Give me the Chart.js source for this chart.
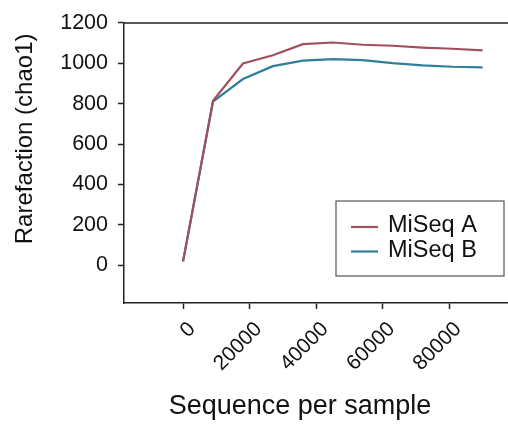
<!DOCTYPE html>
<html>
<head>
<meta charset="utf-8">
<script src="https://cdn.jsdelivr.net/npm/chart.js@4"></script>
<style>
  body { margin: 0; background: #fff; }
  #wrap { width: 508px; height: 426px; }
</style>
</head>
<body>
<div id="wrap"><canvas id="chart"></canvas></div>
<script>
// sequences per sample (x) and chao1 values
const seqs = [0, 9000, 18000, 27000, 36000, 45000, 54000, 63000, 72000, 81000, 90000];
const miseqA = [20, 815, 999, 1040, 1095, 1103, 1092, 1087, 1078, 1072, 1064];
const miseqB = [20, 810, 922, 986, 1013, 1021, 1016, 1001, 990, 983, 980];

const xTicks = [0, 20000, 40000, 60000, 80000];
const yTicks = [0, 200, 400, 600, 800, 1000, 1200];

const xTitle = 'Sequence per sample';
const yTitle = 'Rarefaction (chao1)';

const FONT = "'Liberation Sans', Arial, sans-serif";
const AXIS = '#222';

function toPoints(ys) {
  return seqs.map((x, i) => ({ x: x, y: ys[i] }));
}

// top spine, axis titles (off-centre like the original) and boxed legend
const frame = {
  id: 'frame',
  afterDraw(chart) {
    const ctx = chart.ctx;
    const a = chart.chartArea;
    ctx.save();
    ctx.strokeStyle = AXIS;
    ctx.lineWidth = 1.5;
    ctx.beginPath();
    ctx.moveTo(a.left, a.top);
    ctx.lineTo(a.right, a.top);
    ctx.stroke();

    // axis titles
    ctx.fillStyle = '#111';
    ctx.textAlign = 'center';
    ctx.textBaseline = 'middle';
    ctx.font = '27px ' + FONT;
    ctx.fillText(xTitle, a.left + 176, a.bottom + 104);
    ctx.save();
    ctx.translate(a.left - 99, a.top + 116);
    ctx.rotate(-Math.PI / 2);
    ctx.font = '24px ' + FONT;
    ctx.fillText(yTitle, 0, 0);
    ctx.restore();

    // legend box
    const bx = a.right - 172, by = a.bottom - 102, bw = 168, bh = 75;
    ctx.fillStyle = '#fff';
    ctx.fillRect(bx, by, bw, bh);
    ctx.strokeStyle = '#555';
    ctx.lineWidth = 1.2;
    ctx.strokeRect(bx, by, bw, bh);
    ctx.font = '23.5px ' + FONT;
    ctx.textAlign = 'left';
    ctx.textBaseline = 'alphabetic';
    chart.data.datasets.forEach((ds, i) => {
      const ly = by + 26 + i * 24.5;
      ctx.strokeStyle = ds.borderColor;
      ctx.lineWidth = 2.2;
      ctx.beginPath();
      ctx.moveTo(bx + 15, ly);
      ctx.lineTo(bx + 42, ly);
      ctx.stroke();
      ctx.fillStyle = '#111';
      ctx.fillText(ds.label, bx + 52, ly + 5);
    });
    ctx.restore();
  }
};

const config = {
  type: 'line',
  data: {
    datasets: [
      {
        label: 'MiSeq A',
        data: toPoints(miseqA),
        borderColor: '#a0505f',
        backgroundColor: '#a0505f',
        borderWidth: 2.2,
        pointRadius: 0,
        tension: 0
      },
      {
        label: 'MiSeq B',
        data: toPoints(miseqB),
        borderColor: '#2f7e9a',
        backgroundColor: '#2f7e9a',
        borderWidth: 2.2,
        pointRadius: 0,
        tension: 0
      }
    ]
  },
  options: {
    responsive: true,
    maintainAspectRatio: false,
    animation: false,
    layout: { padding: { top: 21, right: 0, left: 0, bottom: 4 } },
    plugins: {
      legend: { display: false },
      tooltip: { enabled: false }
    },
    scales: {
      x: {
        type: 'linear',
        min: -17750,
        max: 97650,
        afterBuildTicks: s => { s.ticks = xTicks.map(v => ({ value: v })); },
        afterFit: s => { s.height = 119; },
        grid: { drawOnChartArea: false, tickLength: 6, color: AXIS, tickWidth: 1.5 },
        border: { display: true, color: AXIS, width: 1.5 },
        ticks: {
          color: '#111',
          font: { family: FONT, size: 21 },
          minRotation: 45,
          maxRotation: 45,
          padding: 8,
          labelOffset: 9,
          callback: v => String(v)
        },
        title: { display: false }
      },
      y: {
        min: -186,
        max: 1200,
        afterBuildTicks: s => { s.ticks = yTicks.map(v => ({ value: v })); },
        afterFit: s => { s.width = 124; },
        grid: { drawOnChartArea: false, tickLength: 6, color: AXIS, tickWidth: 1.5 },
        border: { display: true, color: AXIS, width: 1.5 },
        ticks: {
          color: '#111',
          font: { family: FONT, size: 21.5 },
          padding: 10,
          callback: v => String(v)
        },
        title: { display: false }
      }
    }
  },
  plugins: [frame]
};

const myChart = new Chart(document.getElementById('chart'), config);
</script>
</body>
</html>
